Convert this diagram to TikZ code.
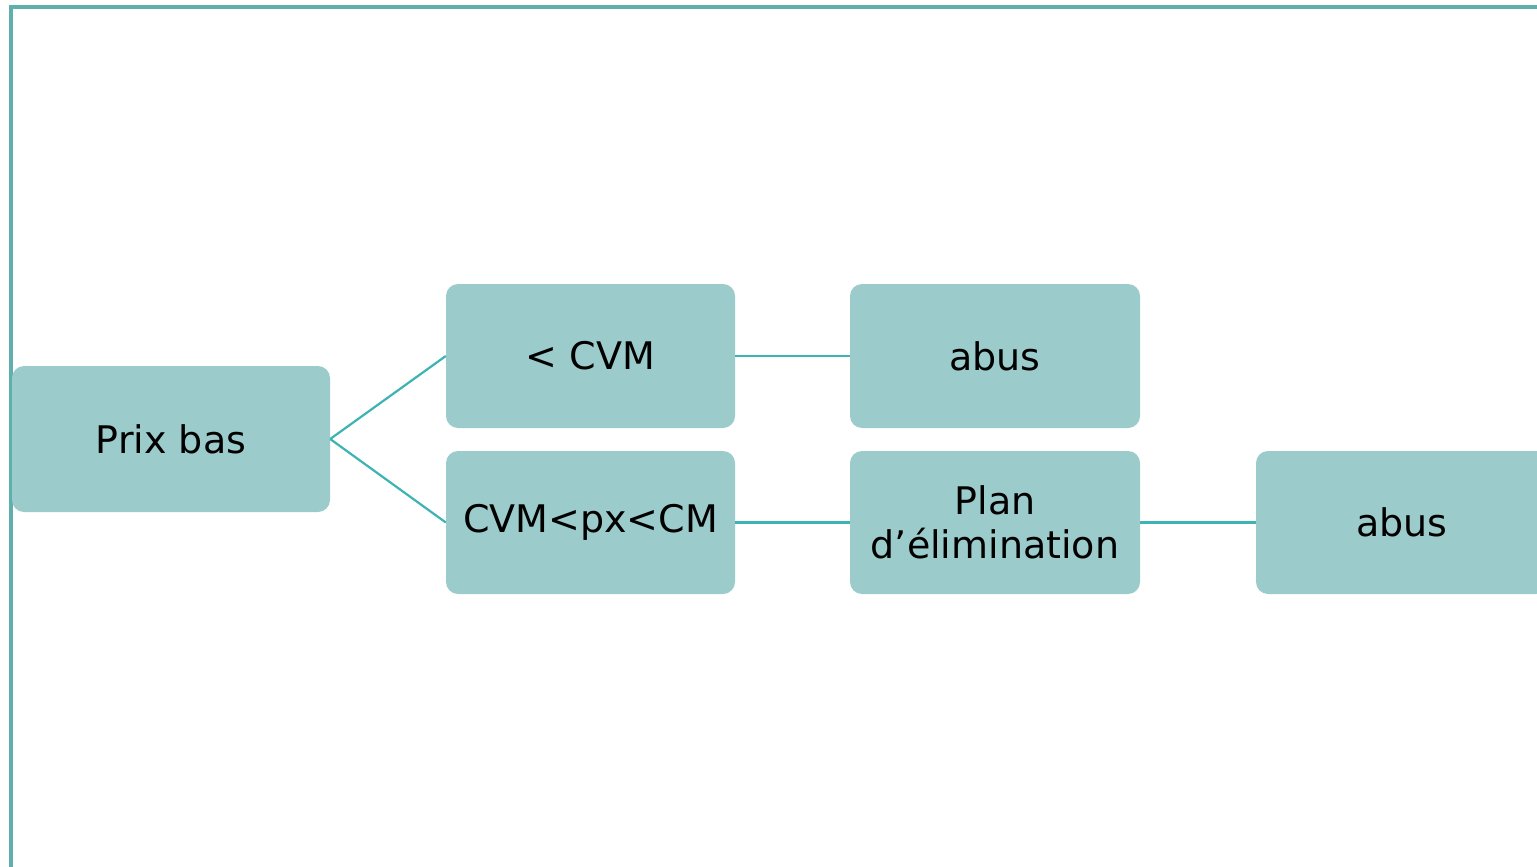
\documentclass[tikz,border=0pt]{standalone}
\usepackage{fontspec}
\setmainfont{DejaVu Sans}
\definecolor{boxfill}{HTML}{9BCBCB}
\definecolor{linkcol}{HTML}{3DB3B3}
\definecolor{framecol}{HTML}{5FAFAF}
\tikzset{
  box/.style={draw=none, fill=boxfill, rounded corners=12pt, inner sep=0pt,
    align=center, font=\fontsize{38}{44}\selectfont, text=black},
  link/.style={draw=linkcol, line width=2.2pt},
}
\begin{document}
\begin{tikzpicture}[x=1pt,y=-1pt]
\useasboundingbox (0,0) rectangle (1537,867);
\begin{scope}
\clip (0,0) rectangle (1537,867);
\draw[framecol, line width=4pt] (11,880) -- (11,7) -- (1550,7);
\node[box, minimum width=318pt, minimum height=146pt] (prix) at (171,439) {Prix bas};
\node[box, minimum width=289pt, minimum height=144pt] (cvm) at (590.5,356) {<~CVM};
\node[box, minimum width=290pt, minimum height=144pt] (abus1) at (995,356) {abus};
\node[box, minimum width=289pt, minimum height=143pt] (cvmpx) at (590.5,522.5) {CVM<px<CM};
\node[box, minimum width=290pt, minimum height=143pt] (plan) at (995,522.5) {Plan\\d’élimination};
\node[box, minimum width=292pt, minimum height=143pt] (abus2) at (1402,522.5) {abus};
\draw[link] (prix.east) -- (cvm.west);
\draw[link] (prix.east) -- (cvmpx.west);
\draw[link] (cvm.east) -- (abus1.west);
\draw[link] (cvmpx.east) -- (plan.west);
\draw[link] (plan.east) -- (abus2.west);
\end{scope}
\end{tikzpicture}
\end{document}
